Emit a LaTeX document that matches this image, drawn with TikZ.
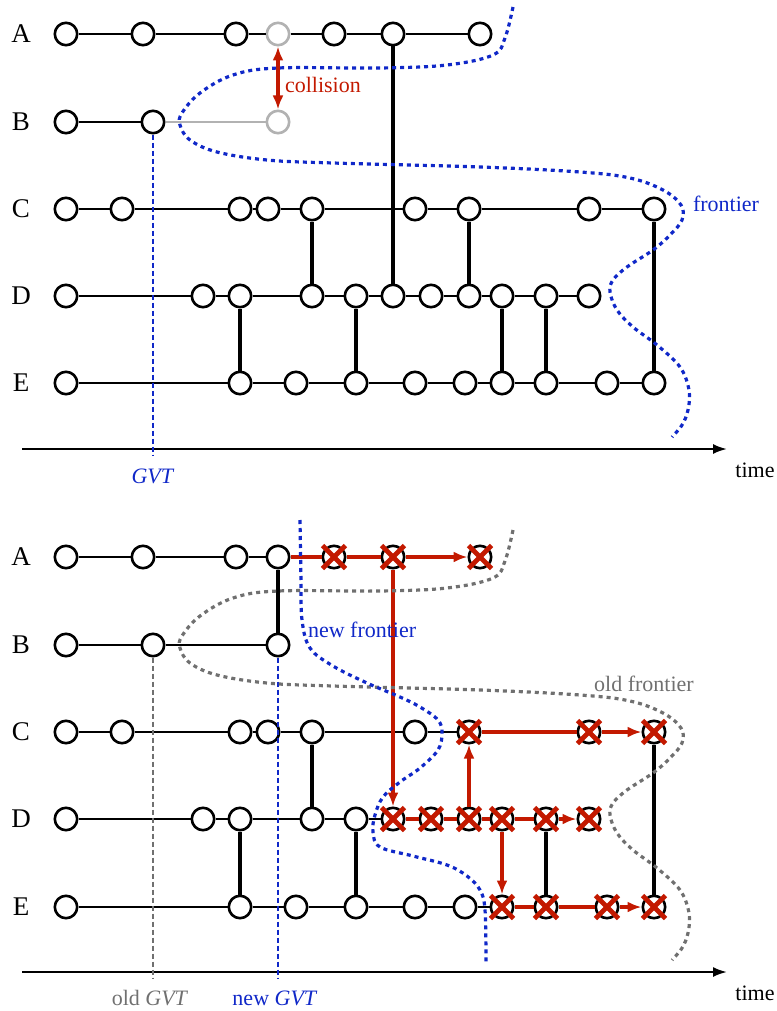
\documentclass[tikz,border=0pt]{standalone}
\usepackage{fontspec}
\setmainfont{Liberation Serif}
\usetikzlibrary{arrows.meta}
\definecolor{fblue}{RGB}{16,40,200}
\definecolor{fred}{RGB}{195,25,0}
\definecolor{lgrey}{RGB}{178,178,178}
\definecolor{dgrey}{RGB}{112,112,112}
\begin{document}
\begin{tikzpicture}[x=0.5pt,y=-0.5pt,
 ev/.style={circle,draw,fill=white,line width=1.3pt,minimum size=11.2pt,inner sep=0pt},
 evg/.style={ev,draw=lgrey},
 hl/.style={line width=1.1pt},
 vl/.style={line width=1.6pt},
 rl/.style={draw=fred,line width=1.6pt,-{Latex[length=7pt,width=5.5pt]}},
 xm/.style={draw=fred,line width=2.4pt},
 front/.style={line width=1.6pt,dash pattern=on 2pt off 2pt},
 gvt/.style={line width=0.9pt,dash pattern=on 2.5pt off 1.5pt},
 rowlab/.style={font=\fontsize{13.5}{16}\selectfont},
 lab/.style={font=\fontsize{11}{13}\selectfont},
 axis/.style={line width=1.1pt,-{Latex[length=7pt,width=5pt]}}
]
\useasboundingbox (0,0) rectangle (776,1011);

% ================= TOP =================
\foreach \r/\y in {A/34,B/122,C/209,D/296,E/383}
  \node[rowlab] (tl\r) at (21,\y) {\r};
\node[ev] (tA1) at (66,34) {};
\node[ev] (tA2) at (143,34) {};
\node[ev] (tA3) at (236,34) {};
\node[evg] (tA4) at (278,34) {};
\node[ev] (tA5) at (334,34) {};
\node[ev] (tA6) at (393,34) {};
\node[ev] (tA7) at (480,34) {};
\node[ev] (tB1) at (66,122) {};
\node[ev] (tB2) at (153,122) {};
\node[evg] (tB3) at (278,122) {};
\foreach \x [count=\i] in {66,122,240,268,312,415,469,589,654}
  \node[ev] (tC\i) at (\x,209) {};
\foreach \x [count=\i] in {66,203,240,312,356,393,431,469,502,546,589}
  \node[ev] (tD\i) at (\x,296) {};
\foreach \x [count=\i] in {66,240,296,356,415,465,502,546,607,654}
  \node[ev] (tE\i) at (\x,383) {};

\draw[hl] (tA1)--(tA2)--(tA3)--(tA4)--(tA5)--(tA6)--(tA7);
\draw[hl] (tB1)--(tB2);
\draw[hl,lgrey] (tB2)--(tB3);
\draw[hl] (tC1)--(tC2)--(tC3)--(tC4)--(tC5)--(tC6)--(tC7)--(tC8)--(tC9);
\draw[hl] (tD1)--(tD2)--(tD3)--(tD4)--(tD5)--(tD6)--(tD7)--(tD8)--(tD9)--(tD10)--(tD11);
\draw[hl] (tE1)--(tE2)--(tE3)--(tE4)--(tE5)--(tE6)--(tE7)--(tE8)--(tE9)--(tE10);

\draw[vl] (tC5)--(tD4);
\draw[vl] (tA6)--(tD6);
\draw[vl] (tC7)--(tD8);
\draw[vl] (tC9)--(tE10);
\draw[vl] (tD3)--(tE2);
\draw[vl] (tD5)--(tE4);
\draw[vl] (tD9)--(tE7);
\draw[vl] (tD10)--(tE8);

\draw[fred,line width=1.6pt,{Latex[length=7pt,width=5.5pt]}-{Latex[length=7pt,width=5.5pt]}] (tA4)--(tB3);
\node[lab,fred,anchor=west] (coll) at (278,85) {collision};

\coordinate (tax0) at (22,449);
\coordinate (tax1) at (727,449);
\draw[axis] (tax0)--(tax1);
\node[lab] (ttime) at (755,470) {time};

\coordinate (tg) at (153,456);
\draw[gvt,fblue] (tB2)--(tg);
\node[lab,fblue] (tgvt) at (153,476) {\textit{GVT}};

\draw[front,fblue] plot[smooth,tension=0.6] coordinates {(513,7) (505,38) (493,55) (447,65) (380,68) (278,68) (233,75) (200,93) (182,113) (180,125) (190,140) (217,152) (267,160) (333,163) (480,167) (580,172) (630,178) (663,190) (681,205) (682,220) (670,235) (653,250) (627,267) (613,280) (610,292) (617,310) (633,327) (657,345) (680,367) (689,390) (688,410) (682,425) (672,437)};
\node[lab,fblue,anchor=west] (tfr) at (686,204) {frontier};

% ================= BOTTOM =================
\foreach \r/\y in {A/557,B/645,C/732,D/819,E/907}
  \node[rowlab] (bl\r) at (21,\y) {\r};
\foreach \x [count=\i] in {66,143,236,278,334,393,480}
  \node[ev] (bA\i) at (\x,557) {};
\foreach \x [count=\i] in {66,153,278}
  \node[ev] (bB\i) at (\x,645) {};
\foreach \x [count=\i] in {66,122,240,268,312,415,469,589,654}
  \node[ev] (bC\i) at (\x,732) {};
\foreach \x [count=\i] in {66,203,240,312,356,393,431,469,502,546,589}
  \node[ev] (bD\i) at (\x,819) {};
\foreach \x [count=\i] in {66,240,296,356,415,465,502,546,607,654}
  \node[ev] (bE\i) at (\x,907) {};

\draw[hl] (bA1)--(bA2)--(bA3)--(bA4);
\draw[hl] (bB1)--(bB2)--(bB3);
\draw[hl] (bC1)--(bC2)--(bC3)--(bC4)--(bC5)--(bC6)--(bC7);
\draw[hl] (bD1)--(bD2)--(bD3)--(bD4)--(bD5)--(bD6);
\draw[hl] (bE1)--(bE2)--(bE3)--(bE4)--(bE5)--(bE6)--(bE7);

\draw[vl] (bA4)--(bB3);
\draw[vl] (bC5)--(bD4);
\draw[vl] (bD3)--(bE2);
\draw[vl] (bD5)--(bE4);
\draw[vl] (bD10)--(bE8);
\draw[vl] (bC9)--(bE10);

\draw[rl] (bA4)--(bA5)--(bA6)--(bA7);
\draw[rl] (bC7)--(bC8)--(bC9);
\draw[rl] (bD6)--(bD7)--(bD8)--(bD9)--(bD10)--(bD11);
\draw[rl] (bE7)--(bE8)--(bE9)--(bE10);
\draw[rl] (bA6)--(bD6);
\draw[rl] (bD8)--(bC7);
\draw[rl] (bD9)--(bE7);

\foreach \n in {bA5,bA6,bA7,bC7,bC8,bC9,bD6,bD7,bD8,bD9,bD10,bD11,bE7,bE8,bE9,bE10}{
  \draw[xm] ([shift={(-11.5,-11.5)}]\n.center) -- ([shift={(11.5,11.5)}]\n.center);
  \draw[xm] ([shift={(-11.5,11.5)}]\n.center) -- ([shift={(11.5,-11.5)}]\n.center);
}

\coordinate (bax0) at (22,972);
\coordinate (bax1) at (727,972);
\draw[axis] (bax0)--(bax1);
\node[lab] (btime) at (755,993) {time};

\coordinate (bg1) at (153,979);
\coordinate (bg2) at (278,979);
\draw[gvt,dgrey] (bB2)--(bg1);
\draw[gvt,fblue] (bB3)--(bg2);
\node[lab,dgrey] (bogvt) at (150,998) {old \textit{GVT}};
\node[lab,fblue] (bngvt) at (275,998) {new \textit{GVT}};

\begin{scope}[shift={(0,523)}]
\draw[front,dgrey] plot[smooth,tension=0.6] coordinates {(513,7) (505,38) (493,55) (447,65) (380,68) (278,68) (233,75) (200,93) (182,113) (180,125) (190,140) (217,152) (267,160) (333,163) (480,167) (580,172) (630,178) (663,190) (681,205) (682,220) (670,235) (653,250) (627,267) (613,280) (610,292) (617,310) (633,327) (657,345) (680,367) (689,390) (688,410) (682,425) (672,437)};
\end{scope}
\node[lab,dgrey] (bofr) at (644,684) {old frontier};

\draw[front,fblue] plot[smooth,tension=0.6] coordinates {(300,520) (301,580) (302,620) (310,648) (333,666) (367,683) (400,697) (420,707) (438,720) (442,733) (438,750) (420,768) (400,782) (383,797) (375,815) (373,832) (380,847) (413,856) (447,865) (467,876) (480,890) (485,910) (486,963)};
\node[lab,fblue,anchor=west] (bnfr) at (301,630) {new frontier};

\end{tikzpicture}
\end{document}
